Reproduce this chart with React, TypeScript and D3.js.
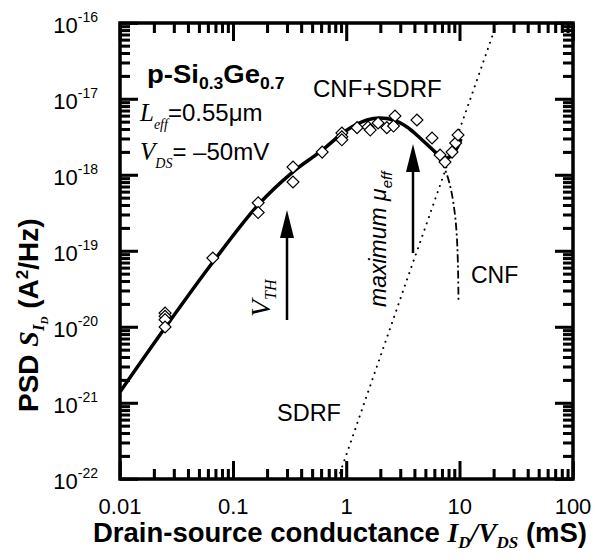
import React, { useEffect, useRef } from "react";
import * as d3 from "d3";

const W = 596;
const H = 560;
const PL = 120, PR = 573, PT = 23, PB = 479;

// Axis ticks
const xTickValues = [0.01, 0.1, 1, 10, 100];
const xTickLabels = ["0.01", "0.1", "1", "10", "100"];
const yTickValues = [1e-16, 1e-17, 1e-18, 1e-19, 1e-20, 1e-21, 1e-22];
const yTickExponents = ["-16", "-17", "-18", "-19", "-20", "-21", "-22"];
const minorMultipliers = [2, 3, 4, 5, 6, 7, 8, 9];

// Measured noise (diamonds)
const measX = [0.025, 0.025, 0.025, 0.025, 0.066, 0.166, 0.166, 0.337, 0.337, 0.61,
  0.91, 0.91, 0.91, 1.24, 1.55, 1.62, 1.90, 2.27, 2.68, 2.6, 4.19, 5.69, 6.7, 7.41, 8.55, 9.2, 9.66];
const measY = [1.53e-20, 1.38e-20, 1.25e-20, 1.0e-20, 8.1e-20, 4.3e-19, 3.2e-19, 1.27e-18, 8.1e-19, 2.0e-18,
  3.57e-18, 3.18e-18, 2.9e-18, 4.2e-18, 4.28e-18, 3.9e-18, 4.83e-18, 4.2e-18, 5.97e-18, 4.4e-18, 5.3e-18, 3.07e-18, 1.83e-18, 1.48e-18, 2.0e-18, 2.64e-18, 3.36e-18];

// CNF+SDRF fit (solid)
const fitX = [0.01, 0.0249, 0.0662, 0.1656, 0.337, 0.583, 1.01, 1.52, 1.98, 2.58, 3.42, 4.46, 5.81, 6.70, 7.71, 8.71, 9.66, 10.26];
const fitY = [1.40e-21, 9.7e-21, 7.16e-20, 4.03e-19, 1.10e-18, 2.01e-18, 3.91e-18, 5.30e-18, 5.62e-18, 5.30e-18, 4.28e-18, 3.07e-18, 2.13e-18, 1.78e-18, 1.67e-18, 1.89e-18, 2.41e-18, 2.98e-18];

// CNF (dash-dot)
const cnfX = [3.42, 4.46, 5.81, 6.70, 7.55, 8.38, 9.08, 9.46, 9.66, 9.75];
const cnfY = [4.28e-18, 3.07e-18, 2.08e-18, 1.58e-18, 1.10e-18, 6.35e-19, 2.98e-19, 1.40e-19, 5.6e-20, 2.14e-20];

// SDRF (dotted)
const sdrfX = [0.84, 3.42, 21.3];
const sdrfY = [1e-22, 4.2e-20, 1e-16];

const SANS = "'Liberation Sans', Arial, Helvetica, sans-serif";
const SERIF = "'Liberation Serif', 'Times New Roman', serif";

const xScale = d3.scaleLog().domain([0.01, 100]).range([PL, PR]);
const yScale = d3.scaleLog().domain([1e-22, 1e-16]).range([PB, PT]);

const xMinor: number[] = [];
for (let di = 0; di < 4; di++) {
  for (let mi = 0; mi < minorMultipliers.length; mi++) xMinor.push(minorMultipliers[mi] * xTickValues[di]);
}
const yMinor: number[] = [];
for (let di = 1; di < yTickValues.length; di++) {
  for (let mi = 0; mi < minorMultipliers.length; mi++) yMinor.push(minorMultipliers[mi] * yTickValues[di]);
}

export default function App() {
  const axRef = useRef<SVGGElement | null>(null);
  const x = xScale;
  const y = yScale;
  const MAJ = 18;
  const MIN = 10;

  useEffect(() => {
    if (!axRef.current) return;
    const g = d3.select(axRef.current);
    g.selectAll("*").remove();
    const mk = (axis: any, tx: number, ty: number) => {
      const sel = g.append("g").attr("transform", `translate(${tx},${ty})`).call(axis);
      sel.select(".domain").remove();
      sel.selectAll("text").remove();
      sel.selectAll("line").attr("stroke", "#000").attr("stroke-width", 2.5);
    };
    mk(d3.axisBottom(x).tickValues(xTickValues).tickSize(-MAJ).tickFormat(() => ""), 0, PB);
    mk(d3.axisBottom(x).tickValues(xMinor).tickSize(-MIN).tickFormat(() => ""), 0, PB);
    mk(d3.axisTop(x).tickValues(xTickValues).tickSize(-MAJ).tickFormat(() => ""), 0, PT);
    mk(d3.axisTop(x).tickValues(xMinor).tickSize(-MIN).tickFormat(() => ""), 0, PT);
    mk(d3.axisLeft(y).tickValues(yTickValues).tickSize(-MAJ).tickFormat(() => ""), PL, 0);
    mk(d3.axisLeft(y).tickValues(yMinor).tickSize(-MIN).tickFormat(() => ""), PL, 0);
    mk(d3.axisRight(y).tickValues(yTickValues).tickSize(-MAJ).tickFormat(() => ""), PR, 0);
    mk(d3.axisRight(y).tickValues(yMinor).tickSize(-MIN).tickFormat(() => ""), PR, 0);
  }, []);

  const xTicks = xTickValues.map((v) => ({ p: x(v), len: MAJ })).concat(xMinor.map((v) => ({ p: x(v), len: MIN })));
  const yTicks = yTickValues.map((v) => ({ p: y(v), len: MAJ })).concat(yMinor.map((v) => ({ p: y(v), len: MIN })));
  const TW = 2.5;

  const curve = d3
    .line<[number, number]>()
    .x((d) => x(d[0]))
    .y((d) => y(d[1]))
    .curve(d3.curveCatmullRom.alpha(0.5));
  const straight = d3
    .line<[number, number]>()
    .x((d) => x(d[0]))
    .y((d) => y(d[1]));

  const fitPts = fitX.map((v, i) => [v, fitY[i]] as [number, number]);
  const cnfPts = cnfX.map((v, i) => [v, cnfY[i]] as [number, number]);
  const sdrfPts = sdrfX.map((v, i) => [v, sdrfY[i]] as [number, number]);
  const diamond = d3.symbol(d3.symbolSquare, 70)()!;

  return (
    <svg width={W} height={H} style={{ display: "block", position: "absolute", left: 0, top: 0 }}>
      <rect x={0} y={0} width={W} height={H} fill="#fff" />

      {/* tick labels */}
      <g fontFamily={SANS} fill="#000">
        {xTickValues.map((v, i) => (
          <text key={"xl" + i} x={x(v)} y={514} fontSize={22} textAnchor="middle">
            {xTickLabels[i]}
          </text>
        ))}
        {yTickValues.map((v, i) => (
          <text key={"yl" + i} x={98} y={y(v) + 10} fontSize={22} textAnchor="end">
            10
            <tspan fontSize={14} dy={-11}>
              {yTickExponents[i]}
            </tspan>
          </text>
        ))}
      </g>

      {/* ticks (JSX) */}
      <g fill="#000">
        {xTicks.map((t, i) => (
          <rect key={"xb" + i} x={t.p - TW / 2} y={PB - t.len} width={TW} height={t.len} />
        ))}
        {xTicks.map((t, i) => (
          <rect key={"xt" + i} x={t.p - TW / 2} y={PT} width={TW} height={t.len} />
        ))}
        {yTicks.map((t, i) => (
          <rect key={"ylt" + i} x={PL} y={t.p - TW / 2} width={t.len} height={TW} />
        ))}
        {yTicks.map((t, i) => (
          <rect key={"yrt" + i} x={PR - t.len} y={t.p - TW / 2} width={t.len} height={TW} />
        ))}
      </g>
      {/* ticks (d3 axes) */}
      <g ref={axRef} />

      {/* curves */}
      <g fill="none" stroke="#000">
        <path d={straight(sdrfPts)!} strokeWidth={2} strokeDasharray="0.1 6.5" strokeLinecap="round" />
        <path d={curve(cnfPts)!} strokeWidth={1.8} strokeDasharray="8 3 2 3" />
        <path d={curve(fitPts)!} strokeWidth={3.5} strokeLinejoin="round" />
      </g>

      {/* data */}
      <g fill="#fff" stroke="#000" strokeWidth={1.2}>
        {measX.map((v, i) => (
          <path key={"d" + i} d={diamond} transform={`translate(${x(v)},${y(measY[i])}) rotate(45)`} />
        ))}
      </g>

      {/* arrows */}
      <g stroke="#000" fill="#000">
        <line x1={287} x2={287} y1={320} y2={236} strokeWidth={2.5} />
        <path d="M287,210 L280,238 L294,238 Z" stroke="none" />
        <line x1={413} x2={413} y1={253} y2={170} strokeWidth={2.5} />
        <path d="M413,144 L406,172 L420,172 Z" stroke="none" />
      </g>

      {/* annotations */}
      <text transform="translate(147,83) scale(1.1,1)" fontFamily={SANS} fontWeight="bold" fontSize={25}>
        p-Si
        <tspan fontSize={16} dy={6}>0.3</tspan>
        <tspan dy={-6}>Ge</tspan>
        <tspan fontSize={16} dy={6}>0.7</tspan>
      </text>
      <text x={140} y={121} fontSize={24}>
        <tspan fontFamily={SERIF} fontStyle="italic" fontSize={25}>L</tspan>
        <tspan fontFamily={SERIF} fontStyle="italic" fontSize={14} dy={8}>eff</tspan>
        <tspan fontFamily={SANS} dy={-8}>=0.55μm</tspan>
      </text>
      <text x={140} y={160} fontSize={24}>
        <tspan fontFamily={SERIF} fontStyle="italic" fontSize={25}>V</tspan>
        <tspan fontFamily={SERIF} fontStyle="italic" fontSize={14} dy={8}>DS</tspan>
        <tspan fontFamily={SANS} dy={-8}>= –50mV</tspan>
      </text>
      <text x={313} y={97} fontFamily={SANS} fontSize={24}>CNF+SDRF</text>
      <text x={471} y={283} fontFamily={SANS} fontSize={23}>CNF</text>
      <text x={277} y={421} fontFamily={SANS} fontSize={23.5}>SDRF</text>

      <text transform="translate(270,317) rotate(-90)" fontFamily={SERIF} fontStyle="italic" fontSize={28}>
        V<tspan fontSize={16} dy={6}>TH</tspan>
      </text>
      <text transform="translate(386,307) rotate(-90)" fontFamily={SANS} fontStyle="italic" fontSize={23}>
        maximum μ<tspan fontSize={15} dy={6}>eff</tspan>
      </text>

      {/* axis titles */}
      <text x={93} y={542} fontFamily={SANS} fontWeight="bold" fontSize={27.5}>
        Drain-source conductance{" "}
        <tspan fontFamily={SERIF} fontStyle="italic">I</tspan>
        <tspan fontFamily={SERIF} fontStyle="italic" fontSize={17} dy={6}>D</tspan>
        <tspan fontFamily={SERIF} fontStyle="italic" dy={-6}>/V</tspan>
        <tspan fontFamily={SERIF} fontStyle="italic" fontSize={17} dy={6}>DS</tspan>
        <tspan dy={-6}> (mS)</tspan>
      </text>
      <text transform="translate(38,412) rotate(-90)" fontFamily={SANS} fontWeight="bold" fontSize={28}>
        PSD{" "}
        <tspan fontFamily={SERIF} fontStyle="italic">S</tspan>
        <tspan fontFamily={SERIF} fontStyle="italic" fontSize={17} dy={6}>I</tspan>
        <tspan fontFamily={SERIF} fontStyle="italic" fontSize={11} dy={4}>D</tspan>
        <tspan dy={-10}> (A</tspan>
        <tspan fontSize={17} dy={-10}>2</tspan>
        <tspan dy={10}>/Hz)</tspan>
      </text>

      {/* frame */}
      <rect x={PL} y={PT} width={PR - PL} height={PB - PT} fill="none" stroke="#000" strokeWidth={3.5} />
    </svg>
  );
}
